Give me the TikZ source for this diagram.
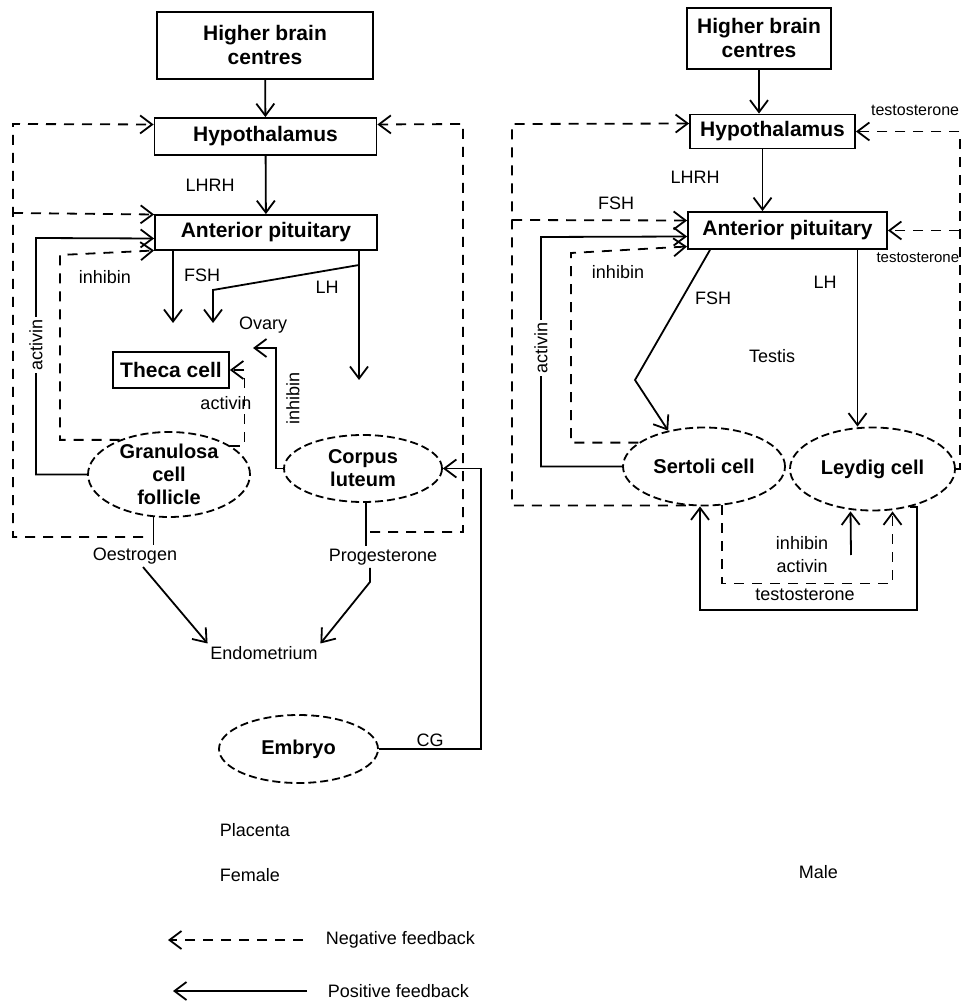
\documentclass[tikz,border=0pt]{standalone}
\usepackage{fontspec}
\setmainfont{Liberation Sans}
\usetikzlibrary{shapes.geometric,arrows.meta}

\begin{document}
\begin{tikzpicture}[x=0.5pt,y=-0.5pt,line width=0.9pt,
    box/.style={draw,rectangle,font=\fontsize{10.5}{12}\selectfont\bfseries,align=center,inner sep=1pt},
    cell/.style={draw,ellipse,dash pattern=on 4pt off 2pt,inner sep=0pt},
    celltxt/.style={font=\fontsize{10}{11.5}\selectfont\bfseries,align=center},
    lbl/.style={font=\fontsize{9}{10.5}\selectfont,inner sep=1pt},
    vlbl/.style={lbl,rotate=90,fill=white},
    posfb/.style={-{Straight Barb[length=6pt,width=9pt]}},
    negfb/.style={dash pattern=on 5pt off 4pt,-{Straight Barb[length=6pt,width=9pt]}}]
\useasboundingbox (0,0) rectangle (962,1004);

% female
\node[box,minimum width=108pt,minimum height=33.5pt] (fhbc) at (265,45.5) {Higher brain\\centres};
\node[box,minimum width=111pt,minimum height=18.5pt] (fhyp) at (265.5,136.5) {Hypothalamus};
\node[box,minimum width=111pt,minimum height=17.5pt] (fap) at (266,232.5) {Anterior pituitary};
\node[box,minimum width=58pt,minimum height=18pt] (theca) at (171,370) {Theca cell};
\node[cell,minimum width=81pt,minimum height=42.5pt] (gran) at (169,474.5) {};
\node[celltxt] at (gran) {Granulosa\\cell\\follicle};
\node[cell,minimum width=79pt,minimum height=33.5pt] (cl) at (363,468.5) {};
\node[celltxt] at (cl) {Corpus\\luteum};
\node[cell,minimum width=79.5pt,minimum height=34pt] (emb) at (298.5,749) {};
\node[celltxt] at (emb) {Embryo};
\node[lbl] (oest) at (135,556) {Oestrogen};
\node[lbl] (prog) at (383,557) {Progesterone};
\node[lbl] (endo) at (264,653) {Endometrium};
\coordinate (fbr) at (13,213);
\coordinate (fsplit) at (359,265);
\coordinate (ffsh) at (173,323);
\coordinate (flh) at (359,380);
\coordinate (flh2) at (213,323);
\coordinate (finh) at (253,348);
\coordinate (oe) at (143,537);
\coordinate (pr) at (370,532);

\draw[posfb] (fhbc) -- (fhyp);
\draw[posfb] (fhyp) -- (fap);
\node[lbl] at (210,185) {LHRH};
\draw[posfb] ([xshift=-46.5pt]fap.south) -- (ffsh);
\node[lbl] at (202,275) {FSH};
\draw[posfb] ([xshift=46.5pt]fap.south) -- (flh);
\draw[posfb] (fsplit) -- (213,290) -- (flh2);
\node[lbl] at (327,287) {LH};
\node[lbl] at (263,325) {Ovary};

\draw (gran.-110) -- (gran.-110 |- oest.north);
\draw[negfb] (oe) -| (13,124) -- ([yshift=6pt]fhyp.west);
\draw[negfb] (fbr) -- ([yshift=9pt]fap.west);
\draw[posfb] (gran.west) -| (36,238) -- ([yshift=-3pt]fap.west);
\node[vlbl] at (36,345) {activin};
\draw[negfb] (gran.145) -| (60,255) -- ([yshift=-9pt]fap.west);
\node[lbl] at (105,277) {inhibin};
\draw[negfb] (gran.25) -- ++(14,0) |- (theca.east);
\node[lbl] at (226,403) {activin};
\draw[posfb] (cl.west) -- ++(-7,0) |- (finh);
\node[vlbl] at (293,398) {inhibin};

\draw (cl.-85) -- (cl.-85 |- prog.north);
\draw[negfb] (pr) -| (463,124) -- ([yshift=6pt]fhyp.east);
\draw[posfb] ([xshift=4pt]oest.south) -- (endo.north west);
\draw[posfb] (prog.south -| pr) -- ++(0,14) -- (endo.north east);
\draw[posfb] (emb.east) -| ([xshift=19pt]cl.east) -- (cl.east);
\node[lbl] at (430,740) {CG};

\node[lbl,anchor=west] at (217,830) {Placenta};
\node[lbl,anchor=west] at (217,875) {Female};

% male
\node[box,minimum width=72pt,minimum height=30.5pt] (mhbc) at (759,38.5) {Higher brain\\centres};
\node[box,minimum width=82.5pt,minimum height=17pt] (mhyp) at (772.5,131.5) {Hypothalamus};
\node[box,minimum width=99.5pt,minimum height=18.5pt] (map) at (787.5,230.5) {Anterior pituitary};
\node[cell,minimum width=81pt,minimum height=39pt] (sert) at (704,466.5) {};
\node[celltxt] at (sert) {Sertoli cell};
\node[cell,minimum width=82.5pt,minimum height=41.5pt] (leyd) at (872.5,469) {};
\node[celltxt] at (leyd) {Leydig cell};
\coordinate (mbr) at (512,220);
\coordinate (mtbr) at (959,230.5);
\coordinate (lyin) at (851,555);

\draw[posfb] (mhbc.south) -- (mhbc.south |- mhyp.north);
\draw[posfb] ([xshift=-5pt]mhyp.south) -- ([xshift=-5pt]mhyp.south |- map.north);
\node[lbl] at (695,177) {LHRH};
\draw[posfb] ([xshift=-38.75pt]map.south) -- (635,380) -- (sert.135);
\node[lbl] at (713,298) {FSH};
\draw[posfb] ([xshift=35pt]map.south) -- ([xshift=35pt]map.south |- leyd.north);
\node[lbl] at (825,282) {LH};
\node[lbl] at (772,356) {Testis};

\draw[negfb] (sert.-115) -| (512,124) -- ([yshift=4pt]mhyp.west);
\draw[negfb] (mbr) -- ([yshift=5pt]map.west);
\node[lbl] at (616,203) {FSH};
\draw[posfb] (sert.west) -| (541,237) -- ([yshift=-3pt]map.west);
\node[vlbl] at (541,348) {activin};
\draw[negfb] (sert.160) -| (571,253) -- ([yshift=-8pt]map.west);
\node[lbl] at (618,272) {inhibin};

\draw[negfb] (leyd.east) -- ++(4,0) |- (mhyp.east);
\draw[negfb] (mtbr) -- (map.east);
\node[lbl,anchor=east,font=\fontsize{8}{9}\selectfont] at (962,110) {testosterone};
\node[lbl,anchor=east,font=\fontsize{7.5}{9}\selectfont] at (962,258) {testosterone};

\draw[posfb] (leyd.-45) -| (917,610) -| ([xshift=-2pt]sert.south);
\node[lbl] at (805,595) {testosterone};
\draw[negfb] (sert.-65) |- ([xshift=10pt,yshift=-36pt]leyd.south) -- ([xshift=10pt]leyd.south);
\node[lbl] at (802,543) {inhibin};
\node[lbl] at (802,566) {activin};
\draw[posfb] (lyin) -- ([xshift=-11pt]leyd.south);

\node[lbl,anchor=west] at (796,872) {Male};

% legend
\node[lbl,anchor=west] (negtxt) at (323,940) {Negative feedback};
\node[lbl,anchor=west] (postxt) at (325,991) {Positive feedback};
\coordinate (negtip) at (168,940);
\coordinate (postip) at (173,991);
\draw[negfb] ([xshift=-10pt]negtxt.west) -- (negtip);
\draw[posfb] ([xshift=-9pt]postxt.west) -- (postip);
\end{tikzpicture}
\end{document}
